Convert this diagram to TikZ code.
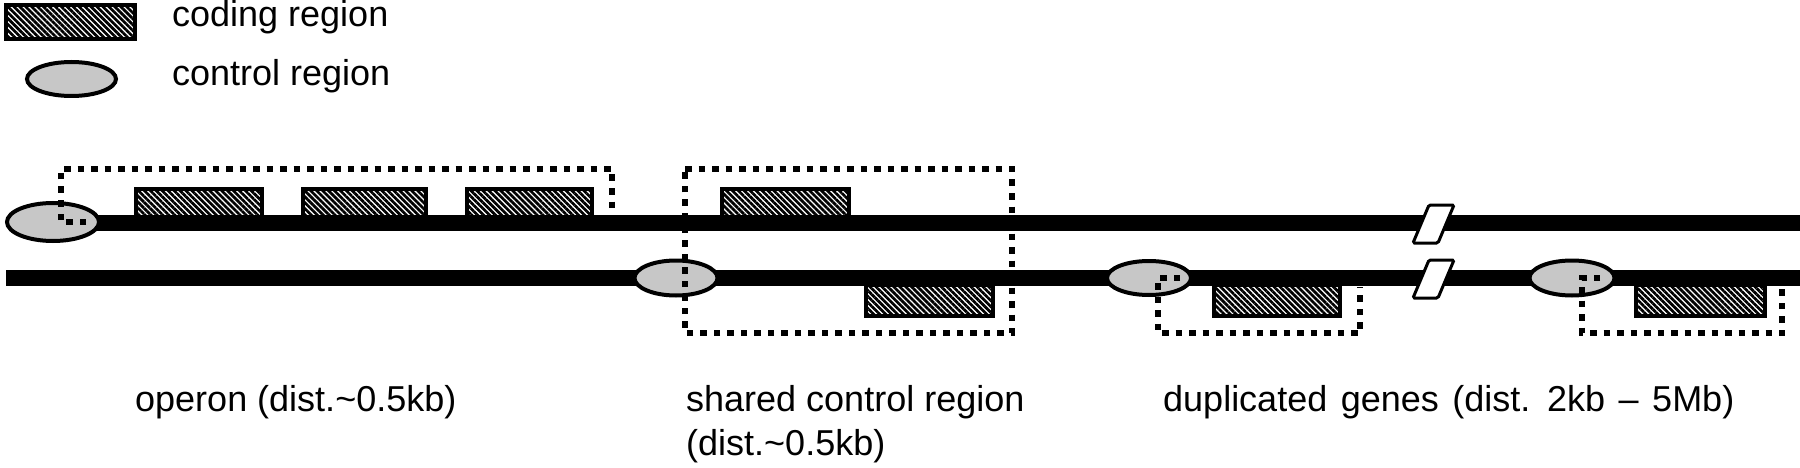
\documentclass[tikz,border=0pt]{standalone}
\usepackage{fontspec}
\setmainfont{Liberation Sans}
\usetikzlibrary{patterns.meta,shapes.geometric}
\begin{document}
\begin{tikzpicture}[x=1pt,y=-1pt,
  dna/.style={line width=16pt},
  coding/.style={draw=black,line width=4pt,rectangle,inner sep=0pt,
    preaction={fill=white},
    pattern={Lines[angle=-45,distance=4.2pt,line width=2.7pt]}},
  ctrl/.style={draw=black,line width=4pt,ellipse,inner sep=0pt,fill=black!22},
  dots/.style={line width=6.5pt,dash pattern=on 6.5pt off 7pt},
  brk/.style={draw=black,fill=white,line width=3pt,rounded corners=1.5pt},
  lbl/.style={anchor=base west,inner sep=0pt,font=\fontsize{36}{44}\selectfont}
]
\useasboundingbox (0,0) rectangle (1800,468);

% legend
\node[coding,minimum width=129pt,minimum height=34pt] (legc) at (70.5,22) {};
\node[ctrl,minimum width=89pt,minimum height=34pt] (lege) at (71.5,79) {};
\node[lbl] (legct) at (172,27) {coding region};
\node[lbl] (leget) at (172,86) {control region};

% coding boxes (drawn below the lines)
\node[coding,minimum width=126pt,minimum height=31pt] (c1) at (199,204.5) {};
\node[coding,minimum width=123pt,minimum height=31pt] (c2) at (364.5,204.5) {};
\node[coding,minimum width=125pt,minimum height=31pt] (c3) at (529.5,204.5) {};
\node[coding,minimum width=127pt,minimum height=31pt] (c4) at (785.5,204.5) {};
\node[coding,minimum width=127pt,minimum height=31pt] (c5) at (929.5,300) {};
\node[coding,minimum width=126pt,minimum height=31pt] (c6) at (1277,300) {};
\node[coding,minimum width=129pt,minimum height=31pt] (c7) at (1700.5,300) {};

% DNA lines
\coordinate (tL) at (53,223);
\coordinate (tR) at (1800,223);
\coordinate (bL) at (6,278);
\coordinate (bR) at (1800,278);
\draw[dna] (tL) -- (tR);
\draw[dna] (bL) -- (bR);

% control regions
\node[ctrl,minimum width=92pt,minimum height=38pt] (e1) at (53,222) {};
\node[ctrl,minimum width=83pt,minimum height=35pt] (e2) at (676,278) {};
\node[ctrl,minimum width=84pt,minimum height=34pt] (e3) at (1149,278) {};
\node[ctrl,minimum width=85pt,minimum height=35pt] (e4) at (1572,278) {};

% dotted groupings
\draw[dots] (86,222) -- (61,222) -- (61,169) -- (612,169) -- (612,212);
\draw[dots] (685,169) -- (1012,169) -- (1012,333) -- (685,333) -- cycle;
\draw[dots] (1180,278) -- (1158,278) -- (1158,333) -- (1360,333) -- (1360,287);
\draw[dots] (1600,278) -- (1582,278) -- (1582,333) -- (1782,333) -- (1782,288);

% break marks
\draw[brk] (1429,205) -- (1454,205) -- (1438,243) -- (1413,243) -- cycle;
\draw[brk] (1429,260) -- (1454,260) -- (1438,298) -- (1413,298) -- cycle;

% labels
\node[lbl] (l1) at (135,411) {operon (dist.\textasciitilde 0.5kb)};
\node[lbl] (l2) at (686,411) {shared control region};
\node[lbl] (l2b) at (686,455) {(dist.\textasciitilde 0.5kb)};
\node[lbl] (l3) at (1163,411) {\spaceskip=13.5pt duplicated genes (dist. 2kb -- 5Mb)};
\end{tikzpicture}
\end{document}
